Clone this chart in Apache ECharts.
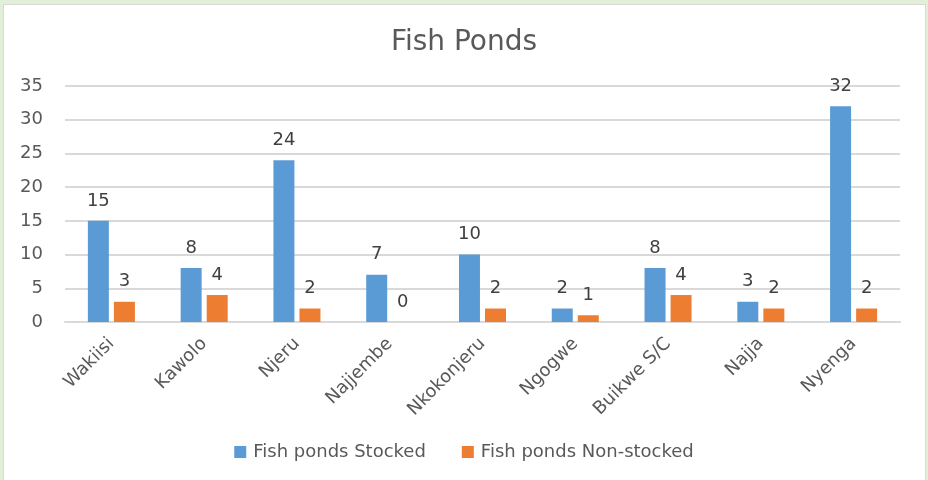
<!DOCTYPE html>
<html><head><meta charset="utf-8">
<script src="https://cdn.jsdelivr.net/npm/echarts@6/dist/echarts.min.js"></script>
<style>
html,body{margin:0;padding:0;background:#e2efd9;}
#wrap{position:absolute;left:3px;top:4px;width:923px;height:480px;background:#fff;border:1px solid #d9d9d9;box-sizing:border-box;}
#c{position:absolute;left:-4px;top:-5px;width:928px;height:480px;}
</style></head>
<body><div id="wrap"><div id="c"></div></div>
<script>
const categories = ['Wakiisi','Kawolo','Njeru','Najjembe','Nkokonjeru','Ngogwe','Buikwe S/C','Najja','Nyenga'];
const stocked = [15, 8, 24, 7, 10, 2, 8, 3, 32];
const nonStocked = [3, 4, 2, 0, 2, 1, 4, 2, 2];
const seriesNames = ['Fish ponds Stocked', 'Fish ponds Non-stocked'];
const FONT = '"DejaVu Sans", sans-serif';
const chart = echarts.init(document.getElementById('c'), null, {renderer:'canvas'});
const lbl = {show:true, position:'top', distance:11, color:'#404040', fontSize:18, fontFamily:FONT};
chart.setOption({
  animation:false,
  backgroundColor:'transparent',
  title:{text:'Fish Ponds', left:'center', top:24, textStyle:{color:'#595959', fontSize:28, fontWeight:'normal', fontFamily:FONT}},
  legend:{bottom:14, left:'center', itemWidth:12, itemHeight:12, itemGap:36, icon:'rect',
    textStyle:{color:'#595959', fontSize:18, fontFamily:FONT, padding:[0,0,0,2]}, data:seriesNames},
  grid:{left:65, right:28, top:86, bottom:158},
  xAxis:{type:'category', data:categories,
    axisLine:{lineStyle:{color:'#d9d9d9', width:2}}, axisTick:{show:false},
    axisLabel:{rotate:45, color:'#595959', fontSize:18, fontFamily:FONT, margin:19, interval:0}},
  yAxis:{type:'value', min:0, max:35, interval:5,
    axisLine:{show:false}, axisTick:{show:false},
    splitLine:{lineStyle:{color:'#d9d9d9', width:2}},
    axisLabel:{color:'#595959', fontSize:18, fontFamily:FONT, margin:22}},
  series:[
    {name:seriesNames[0], type:'bar', data:stocked, barWidth:21, barGap:'24%',
     itemStyle:{color:'#5b9bd5'}, label:lbl},
    {name:seriesNames[1], type:'bar', data:nonStocked, barWidth:21,
     itemStyle:{color:'#ed7d31'}, label:lbl}
  ]
});
</script></body></html>
